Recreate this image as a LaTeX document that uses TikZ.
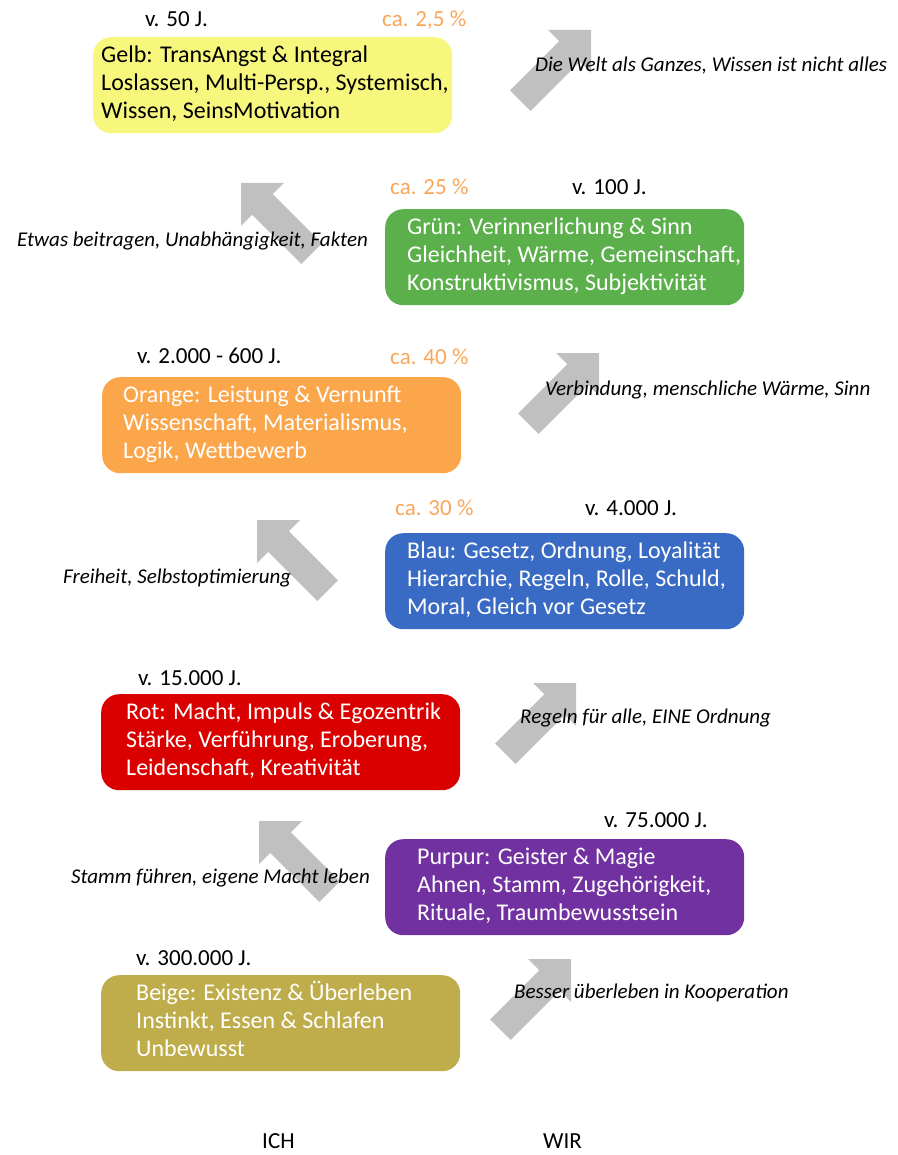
\documentclass[tikz,border=0pt]{standalone}
\usepackage{fontspec}
\setmainfont{Carlito}
\definecolor{gelbfill}{RGB}{246,247,124}
\definecolor{gruenfill}{RGB}{91,176,76}
\definecolor{orangefill}{RGB}{252,166,76}
\definecolor{blaufill}{RGB}{58,107,196}
\definecolor{rotfill}{RGB}{218,0,0}
\definecolor{purpurfill}{RGB}{113,49,160}
\definecolor{beigefill}{RGB}{191,173,75}
\definecolor{pctcolor}{RGB}{249,166,90}
\definecolor{arrowgrey}{RGB}{192,192,192}
\begin{document}
\begin{tikzpicture}[x=1pt,y=-1pt,
  stage/.style={rounded corners=18pt, minimum width=359pt, minimum height=96pt,
    anchor=north west, inner sep=0pt, draw=none},
  stagetext/.style={anchor=west, align=left, inner sep=0pt,
    font=\fontsize{24}{28}\selectfont},
  yearlbl/.style={anchor=base west, inner sep=0pt, font=\fontsize{23}{26}\selectfont},
  pctlbl/.style={yearlbl, text=pctcolor},
  steplbl/.style={anchor=base west, inner sep=0pt, font=\fontsize{21}{24}\selectfont\itshape},
  sidelbl/.style={anchor=base west, inner sep=0pt, font=\fontsize{23}{26}\selectfont},
  blockarrow/.pic={
    \fill[arrowgrey] (0,0) -- (-30.4,30.4) -- (-30.4,14.5) -- (-100,14.5)
      -- (-100,-14.5) -- (-30.4,-14.5) -- (-30.4,-30.4) -- cycle;
  }]
\useasboundingbox (0,0) rectangle (897,1155);

% block arrows between the stages
\pic[rotate=45]  at (591,30)  {blockarrow};
\pic[rotate=135] at (241,183) {blockarrow};
\pic[rotate=45]  at (599,353) {blockarrow};
\pic[rotate=135] at (257,520) {blockarrow};
\pic[rotate=45]  at (576,683) {blockarrow};
\pic[rotate=135] at (259,821) {blockarrow};
\pic[rotate=45]  at (571,959) {blockarrow};

% stage boxes
\node[stage, fill=gelbfill]   (gelb)   at (93,37)   {};
\node[stage, fill=gruenfill]  (gruen)  at (385,209) {};
\node[stage, fill=orangefill] (orange) at (102,377) {};
\node[stage, fill=blaufill]   (blau)   at (385,533) {};
\node[stage, fill=rotfill]    (rot)    at (101,694) {};
\node[stage, fill=purpurfill] (purpur) at (385,839) {};
\node[stage, fill=beigefill]  (beige)  at (101,975) {};

% stage descriptions
\node[stagetext, text=black] (gelbT) at ([xshift=8pt]gelb.west)
  {\strut Gelb: TransAngst \& Integral\\\strut Loslassen, Multi-Persp., Systemisch,\\\strut Wissen, SeinsMotivation};
\node[stagetext, text=white] (gruenT) at ([xshift=22pt]gruen.west)
  {\strut Grün: Verinnerlichung \& Sinn\\\strut Gleichheit, Wärme, Gemeinschaft,\\\strut Konstruktivismus, Subjektivität};
\node[stagetext, text=white] (orangeT) at ([xshift=21pt]orange.west)
  {\strut Orange: Leistung \& Vernunft\\\strut Wissenschaft, Materialismus,\\\strut Logik, Wettbewerb};
\node[stagetext, text=white] (blauT) at ([xshift=22pt]blau.west)
  {\strut Blau: Gesetz, Ordnung, Loyalität\\\strut Hierarchie, Regeln, Rolle, Schuld,\\\strut Moral, Gleich vor Gesetz};
\node[stagetext, text=white] (rotT) at ([xshift=25pt]rot.west)
  {\strut Rot: Macht, Impuls \& Egozentrik\\\strut Stärke, Verführung, Eroberung,\\\strut Leidenschaft, Kreativität};
\node[stagetext, text=white] (purpurT) at ([xshift=32pt]purpur.west)
  {\strut Purpur: Geister \& Magie\\\strut Ahnen, Stamm, Zugehörigkeit,\\\strut Rituale, Traumbewusstsein};
\node[stagetext, text=white] (beigeT) at ([xshift=35pt]beige.west)
  {\strut Beige: Existenz \& Überleben\\\strut Instinkt, Essen \& Schlafen\\\strut Unbewusst};

% time and share labels
\node[yearlbl] (y1) at (145,27)  {v. 50 J.};
\node[pctlbl]  (p1) at (382,27)  {ca. 2,5 \%};
\node[pctlbl]  (p2) at (390,195) {ca. 25 \%};
\node[yearlbl] (y2) at (572,195) {v. 100 J.};
\node[yearlbl] (y3) at (137,363) {v. 2.000 - 600 J.};
\node[pctlbl]  (p3) at (390,364) {ca. 40 \%};
\node[pctlbl]  (p4) at (395,515) {ca. 30 \%};
\node[yearlbl] (y4) at (585,515) {v. 4.000 J.};
\node[yearlbl] (y5) at (138,685) {v. 15.000 J.};
\node[yearlbl] (y6) at (604,827) {v. 75.000 J.};
\node[yearlbl] (y7) at (136,965) {v. 300.000 J.};

% transition labels
\node[steplbl] (s1) at (535,72)  {Die Welt als Ganzes, Wissen ist nicht alles};
\node[steplbl] (s2) at (17,247)  {Etwas beitragen, Unabhängigkeit, Fakten};
\node[steplbl] (s3) at (545,395) {Verbindung, menschliche Wärme, Sinn};
\node[steplbl] (s4) at (63,583)  {Freiheit, Selbstoptimierung};
\node[steplbl] (s5) at (520,723) {Regeln für alle, EINE Ordnung};
\node[steplbl] (s6) at (71,883)  {Stamm führen, eigene Macht leben};
\node[steplbl] (s7) at (514,998) {Besser überleben in Kooperation};

% column captions
\node[sidelbl] (ich) at (262,1148) {ICH};
\node[sidelbl] (wir) at (543,1148) {WIR};
\end{tikzpicture}
\end{document}
